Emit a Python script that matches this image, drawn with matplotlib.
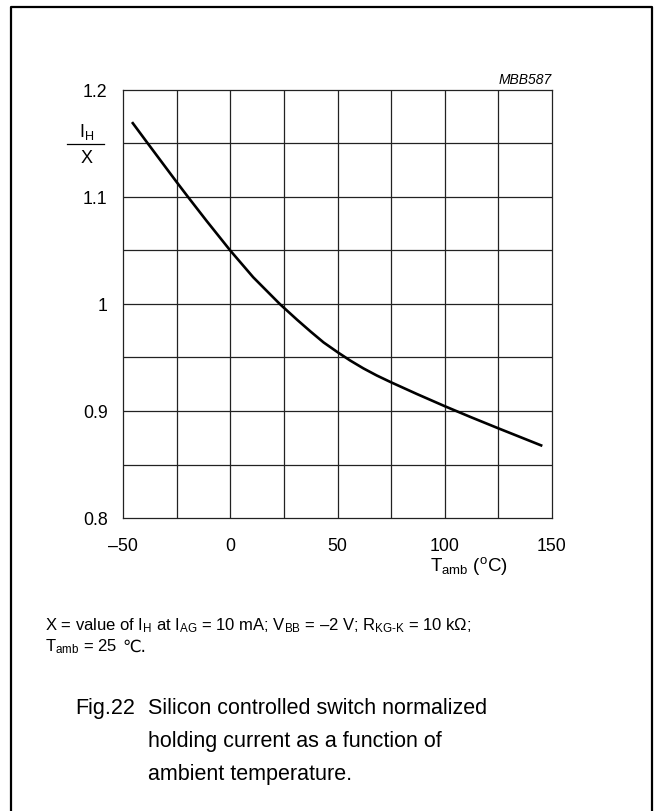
import matplotlib
matplotlib.use("Agg")
import matplotlib.pyplot as plt
from matplotlib.lines import Line2D
import numpy as np

plt.rcParams['font.family'] = ['Liberation Sans', 'DejaVu Sans']
plt.rcParams['mathtext.fontset'] = 'custom'
plt.rcParams['mathtext.rm'] = 'Liberation Sans'
plt.rcParams['mathtext.it'] = 'Liberation Sans:italic'

# curve
temp = [-45.8, -38.6, -25, -19.6, -11, 0, 10.7, 23.2, 31.2, 37.6, 43.5, 50,
        55.9, 62.1, 68.3, 75, 87.1, 100, 112, 125, 137, 145.5]
ih_norm = [1.1700, 1.1505, 1.1140, 1.0998, 1.0776, 1.0500, 1.0250, 0.9998, 0.9852, 0.9740,
           0.9641, 0.9550, 0.9472, 0.9398, 0.9332, 0.9268, 0.9158, 0.9045, 0.8944, 0.8838,
           0.8742, 0.8674]

x_ticks = [-50, 0, 50, 100, 150]
x_tick_labels = ['\u201350', '0', '50', '100', '150']
y_ticks = [0.8, 0.9, 1.0, 1.1, 1.2]
y_tick_labels = ['0.8', '0.9', '1', '1.1', '1.2']

W, H = 655, 812
fig = plt.figure(figsize=(W / 100, H / 100), dpi=100)

def fx(px):
    return px / W

def fy(py):
    return 1 - py / H

ax = fig.add_axes([fx(123), fy(519), fx(552) - fx(123), fy(91) - fy(519)])
ax.set_xlim(-50, 150)
ax.set_ylim(0.8, 1.2)

# grid every 25 degC and every 0.05
for gx in np.arange(-25, 150, 25):
    ax.axvline(gx, color='#222222', linewidth=0.9, zorder=1)
for gy in np.arange(0.85, 1.2, 0.05):
    ax.axhline(gy, color='#222222', linewidth=0.9, zorder=1)
ax.tick_params(which='both', length=0)
ax.set_xticks(x_ticks)
ax.set_xticklabels(x_tick_labels, fontsize=12.8)
ax.set_yticks(y_ticks)
ax.set_yticklabels(y_tick_labels, fontsize=12.8)
ax.tick_params(axis='x', pad=14)
ax.tick_params(axis='y', pad=11)
for s in ax.spines.values():
    s.set_color('#222222')
    s.set_linewidth(0.9)

ax.plot(temp, ih_norm, color='black', linewidth=1.9, solid_capstyle='butt',
        solid_joinstyle='round', zorder=3)

# figure code
ax.text(1.0, 1.01, 'MBB587', transform=ax.transAxes, ha='right', va='bottom',
        fontsize=10, style='italic')

# y label as fraction
fig.text(fx(87), fy(132), 'I$_\\mathrm{H}$', ha='center', va='center', fontsize=13)
fig.add_artist(Line2D([fx(67), fx(104)], [fy(145), fy(145)], color='black', linewidth=0.9))
fig.text(fx(87), fy(159), 'X', ha='center', va='center', fontsize=13)

# x label
fig.text(fx(469), fy(566), 'T$_\\mathrm{amb}$ ($^\\mathrm{o}$C)', ha='center', va='center',
         fontsize=13.5)

# footnote
fig.text(fx(45), fy(626),
         'X = value of I$_\\mathrm{H}$ at I$_\\mathrm{AG}$ = 10 mA; V$_\\mathrm{BB}$ = \u20132 V; '
         'R$_{\\text{KG-K}}$ = 10 k\u03a9;',
         ha='left', va='center', fontsize=12)
t2 = fig.text(fx(45), fy(647), 'T$_\\mathrm{amb}$ = 25  ', ha='left', va='center', fontsize=12)
fig.canvas.draw()
bb = t2.get_window_extent()
fig.text(bb.x1 / W, fy(647), '\u2103.', ha='left', va='center', fontsize=12,
         family=['DejaVu Sans'])

# caption
fig.text(fx(75), fy(709), 'Fig.22', ha='left', va='center', fontsize=15.5)
cap = ['Silicon controlled switch normalized',
       'holding current as a function of',
       'ambient temperature.']
for i, line in enumerate(cap):
    fig.text(fx(148), fy(709 + 33 * i), line, ha='left', va='center', fontsize=15.5)

# outer frame (open at the bottom)
frame_x = [fx(11), fx(11), fx(652), fx(652)]
frame_y = [0, fy(8), fy(8), 0]
fig.add_artist(Line2D(frame_x, frame_y, color='black', linewidth=1.6))

fig.savefig('out.png', dpi=100)
